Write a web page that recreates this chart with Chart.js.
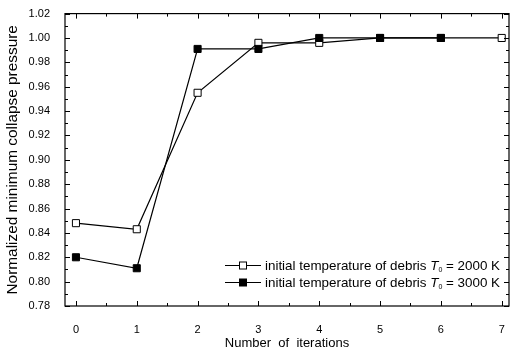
<!DOCTYPE html>
<html>
<head>
<meta charset="utf-8">
<script src="https://cdn.jsdelivr.net/npm/chart.js@4/dist/chart.umd.min.js"></script>
<style>
  html, body { margin: 0; padding: 0; background: #fff; }
</style>
</head>
<body>
<canvas id="myChart" width="515" height="351"></canvas>
<script>
// data
const iterations = [0, 1, 2, 3, 4, 5, 6, 7];
const p2000 = [0.848, 0.843, 0.955, 0.996, 0.996, 1.000, 1.000, 1.000];
const p3000 = [0.820, 0.811, 0.991, 0.991, 1.000, 1.000, 1.000];
const yTicks = [0.78, 0.80, 0.82, 0.84, 0.86, 0.88, 0.90, 0.92, 0.94, 0.96, 0.98, 1.00, 1.02];
const xTicks = [0, 1, 2, 3, 4, 5, 6, 7];
const legendLabels = ["2000 K", "3000 K"];

const FONT = "'Liberation Sans', Arial, sans-serif";

function pts(xs, ys) {
  return ys.map((y, i) => ({ x: xs[i], y: y }));
}

// frame + inward ticks on all four sides, plus the legend
const framePlugin = {
  id: "frame",
  afterDraw(chart) {
    const ctx = chart.ctx;
    const a = chart.chartArea;
    const xs = chart.scales.x, ys = chart.scales.y;
    ctx.save();
    ctx.strokeStyle = "#000";
    ctx.lineWidth = 1.2;
    ctx.strokeRect(a.left, a.top, a.right - a.left, a.bottom - a.top);

    ctx.lineWidth = 1;
    ctx.beginPath();
    // x major / minor
    xTicks.forEach(v => {
      const px = Math.round(xs.getPixelForValue(v)) + 0.5;
      ctx.moveTo(px, a.bottom); ctx.lineTo(px, a.bottom - 5);
      ctx.moveTo(px, a.top); ctx.lineTo(px, a.top + 5);
      if (v < 7) {
        const pm = Math.round(xs.getPixelForValue(v + 0.5)) + 0.5;
        ctx.moveTo(pm, a.bottom); ctx.lineTo(pm, a.bottom - 3);
        ctx.moveTo(pm, a.top); ctx.lineTo(pm, a.top + 3);
      }
    });
    // y major / minor
    yTicks.forEach((v, i) => {
      const py = Math.round(ys.getPixelForValue(v)) + 0.5;
      ctx.moveTo(a.left, py); ctx.lineTo(a.left + 5, py);
      ctx.moveTo(a.right, py); ctx.lineTo(a.right - 5, py);
      if (i < yTicks.length - 1) {
        const pm = Math.round(ys.getPixelForValue(v + 0.01)) + 0.5;
        ctx.moveTo(a.left, pm); ctx.lineTo(a.left + 3, pm);
        ctx.moveTo(a.right, pm); ctx.lineTo(a.right - 3, pm);
      }
    });
    ctx.stroke();

    // legend
    const rows = [
      { y: 265, fill: "#fff", label: legendLabels[0] },
      { y: 282, fill: "#000", label: legendLabels[1] }
    ];
    rows.forEach(r => {
      ctx.strokeStyle = "#000";
      ctx.lineWidth = 1.2;
      ctx.beginPath();
      ctx.moveTo(225, r.y + 0.5); ctx.lineTo(261, r.y + 0.5);
      ctx.stroke();
      ctx.fillStyle = r.fill;
      ctx.fillRect(239.5, r.y - 3, 7, 7);
      ctx.lineWidth = 1;
      ctx.strokeRect(239.5, r.y - 3, 7, 7);

      ctx.fillStyle = "#000";
      ctx.textBaseline = "middle";
      ctx.textAlign = "left";
      let x = 265;
      ctx.font = "13.4px " + FONT;
      const s1 = "initial temperature of debris ";
      ctx.fillText(s1, x, r.y + 1);
      x += ctx.measureText(s1).width;
      ctx.font = "italic 13.4px " + FONT;
      ctx.fillText("T", x, r.y + 1);
      x += ctx.measureText("T").width;
      ctx.font = "7px " + FONT;
      ctx.fillText("0", x, r.y + 5);
      x += ctx.measureText("0").width;
      ctx.font = "13.4px " + FONT;
      ctx.fillText(" = " + r.label, x, r.y + 1);
    });
    ctx.restore();
  }
};

const ctx = document.getElementById("myChart").getContext("2d");
const myChart = new Chart(ctx, {
  type: "line",
  data: {
    datasets: [
      {
        label: "3000 K",
        data: pts(iterations, p3000),
        borderColor: "#000",
        borderWidth: 1.2,
        backgroundColor: "#000",
        pointStyle: "rect",
        pointRadius: 5,
        pointBorderWidth: 1,
        pointBackgroundColor: "#000",
        pointBorderColor: "#000",
        tension: 0,
        order: 1
      },
      {
        label: "2000 K",
        data: pts(iterations, p2000),
        borderColor: "#000",
        borderWidth: 1.2,
        backgroundColor: "#fff",
        pointStyle: "rect",
        pointRadius: 5,
        pointBorderWidth: 1,
        pointBackgroundColor: "#fff",
        pointBorderColor: "#000",
        tension: 0,
        order: 2
      }
    ]
  },
  options: {
    responsive: false,
    animation: false,
    events: [],
    layout: { padding: { top: 13, right: 3, left: 0, bottom: 0 } },
    plugins: {
      legend: { display: false },
      tooltip: { enabled: false }
    },
    scales: {
      x: {
        type: "linear",
        min: -0.18,
        max: 7.12,
        grid: { display: false },
        border: { display: false },
        afterBuildTicks: s => { s.ticks = xTicks.map(v => ({ value: v })); },
        ticks: {
          color: "#000",
          font: { family: FONT, size: 11 },
          padding: 9,
          maxRotation: 0,
          autoSkip: false,
          callback: v => String(v)
        },
        title: {
          display: true,
          text: "Number  of  iterations",
          color: "#000",
          font: { family: FONT, size: 13 },
          padding: { top: 6, bottom: 0 }
        },
        afterFit: s => { s.height = 45; }
      },
      y: {
        min: 0.78,
        max: 1.02,
        grid: { display: false },
        border: { display: false },
        afterBuildTicks: s => { s.ticks = yTicks.map(v => ({ value: v })); },
        ticks: {
          color: "#000",
          font: { family: FONT, size: 11 },
          padding: 7,
          autoSkip: false,
          callback: v => v.toFixed(2)
        },
        title: {
          display: true,
          text: "Normalized minimum collapse pressure",
          color: "#000",
          font: { family: FONT, size: 15.4 },
          padding: { top: 4, bottom: 4 }
        },
        afterFit: s => { s.width = 65; }
      }
    }
  },
  plugins: [framePlugin]
});
</script>
</body>
</html>
